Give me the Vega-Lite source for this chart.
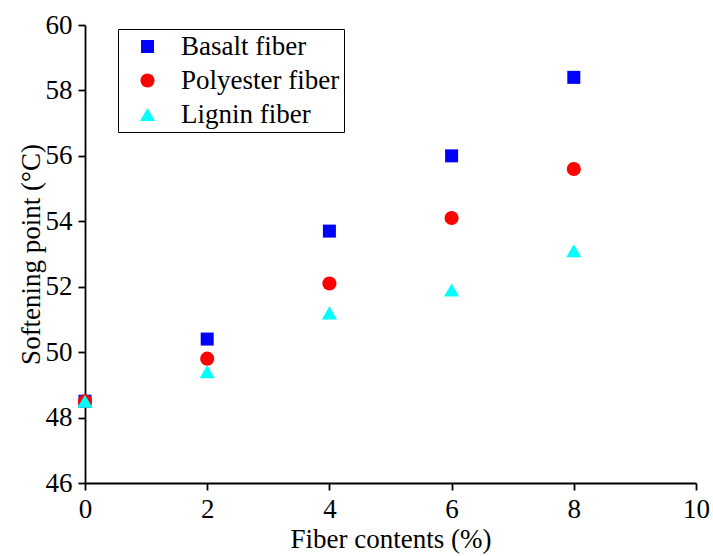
{
  "$schema": "https://vega.github.io/schema/vega-lite/v6.json",
  "width": 611,
  "height": 458,
  "autosize": "none",
  "padding": {"left": 85, "top": 25, "right": 17, "bottom": 73},
  "background": "white",
  "config": {
    "view": {"stroke": null},
    "font": "Liberation Serif",
    "axis": {
      "grid": false,
      "domainColor": "black",
      "domainWidth": 1.8,
      "tickColor": "black",
      "tickWidth": 1.8,
      "tickSize": 7,
      "labelFont": "Liberation Serif",
      "labelFontSize": 27,
      "labelColor": "black",
      "labelFlush": false,
      "titleFont": "Liberation Serif",
      "titleFontSize": 27,
      "titleFontWeight": "normal",
      "titleColor": "black"
    }
  },
  "data": {
    "values": [
      {"fiber": "Basalt fiber", "content": 0, "sp": 48.5},
      {"fiber": "Basalt fiber", "content": 2, "sp": 50.4},
      {"fiber": "Basalt fiber", "content": 4, "sp": 53.7},
      {"fiber": "Basalt fiber", "content": 6, "sp": 56.0},
      {"fiber": "Basalt fiber", "content": 8, "sp": 58.4},
      {"fiber": "Polyester fiber", "content": 0, "sp": 48.5},
      {"fiber": "Polyester fiber", "content": 2, "sp": 49.8},
      {"fiber": "Polyester fiber", "content": 4, "sp": 52.1},
      {"fiber": "Polyester fiber", "content": 6, "sp": 54.1},
      {"fiber": "Polyester fiber", "content": 8, "sp": 55.6},
      {"fiber": "Lignin fiber", "content": 0, "sp": 48.5},
      {"fiber": "Lignin fiber", "content": 2, "sp": 49.4},
      {"fiber": "Lignin fiber", "content": 4, "sp": 51.2},
      {"fiber": "Lignin fiber", "content": 6, "sp": 51.9},
      {"fiber": "Lignin fiber", "content": 8, "sp": 53.1}
    ]
  },
  "mark": {"type": "point", "filled": true, "opacity": 1},
  "encoding": {
    "x": {
      "field": "content",
      "type": "quantitative",
      "scale": {"domain": [0, 10], "nice": false},
      "axis": {"values": [0, 2, 4, 6, 8, 10], "title": "Fiber contents (%)", "labelPadding": 6, "titlePadding": 4}
    },
    "y": {
      "field": "sp",
      "type": "quantitative",
      "scale": {"domain": [46, 60], "nice": false, "zero": false},
      "axis": {"values": [46, 48, 50, 52, 54, 56, 58, 60], "title": "Softening point (°C)", "labelPadding": 6, "titlePadding": 0}
    },
    "color": {
      "field": "fiber",
      "type": "nominal",
      "scale": {"domain": ["Basalt fiber", "Polyester fiber", "Lignin fiber"], "range": ["#0000ff", "#ff0000", "#00ffff"]},
      "legend": {
        "title": null,
        "orient": "none",
        "legendX": 33,
        "legendY": 4,
        "padding": 4,
        "strokeColor": "black",
        "fillColor": "white",
        "labelFont": "Liberation Serif",
        "labelFontSize": 27,
        "labelColor": "black",
        "symbolSize": 210,
        "symbolOffset": 12,
        "labelOffset": 20,
        "rowPadding": 6,
        "symbolOpacity": 1
      }
    },
    "shape": {
      "field": "fiber",
      "type": "nominal",
      "scale": {"domain": ["Basalt fiber", "Polyester fiber", "Lignin fiber"], "range": ["square", "circle", "triangle-up"]}
    },
    "size": {
      "field": "fiber",
      "type": "nominal",
      "scale": {"domain": ["Basalt fiber", "Polyester fiber", "Lignin fiber"], "range": [169, 230, 300]},
      "legend": null
    }
  }
}
